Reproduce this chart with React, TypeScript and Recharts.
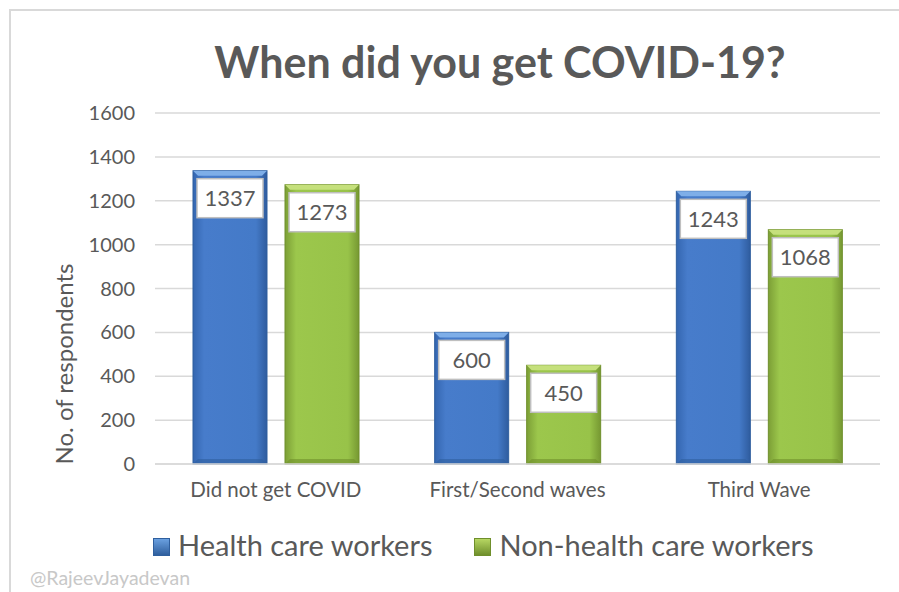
import React from "react";
import {
  BarChart,
  Bar,
  XAxis,
  YAxis,
  CartesianGrid,
  Legend,
  LabelList,
} from "recharts";

const categories = ["Did not get COVID", "First/Second waves", "Third Wave"];
const healthCare = [1337, 600, 1243];
const nonHealthCare = [1273, 450, 1068];
const yTicks = [0, 200, 400, 600, 800, 1000, 1200, 1400, 1600];

const chartData = categories.map((name, i) => ({
  name,
  hcw: healthCare[i],
  nonHcw: nonHealthCare[i],
}));

const FONT = "Lato, 'Open Sans', sans-serif";
const TEXT = "#595959";

function BevelBar(props: any) {
  const { x, y, width, height, fill } = props;
  if (!height || height <= 0) return null;
  const id = fill === "blue" ? "gBlue" : "gGreen";
  const top = fill === "blue" ? "#7eaee8" : "#c5e07c";
  const edge = fill === "blue" ? "#2f5f9e" : "#6f8f2c";
  const b = 5;
  return (
    <g>
      <rect x={x} y={y} width={width} height={height} fill={`url(#${id})`} stroke={edge} strokeWidth={1} />
      <polygon
        points={`${x},${y} ${x + width},${y} ${x + width - b},${y + b} ${x + b},${y + b}`}
        fill={top}
      />
      <polygon
        points={`${x},${y + height} ${x + width},${y + height} ${x + width - b},${y + height - b} ${x + b},${y + height - b}`}
        fill={edge}
        opacity={0.6}
      />
    </g>
  );
}

function ValueBox(props: any) {
  const { x, y, width, value } = props;
  const bw = width - 8;
  const bh = 39;
  const bx = x + 4;
  const by = y + 8;
  return (
    <g>
      <rect x={bx} y={by} width={bw} height={bh} fill="#ffffff" stroke="#bfbfbf" strokeWidth={1.5} />
      <text
        x={x + width / 2}
        y={by + bh / 2 + 8}
        textAnchor="middle"
        fontFamily={FONT}
        fontSize={22}
        fill={TEXT}
      >
        {value}
      </text>
    </g>
  );
}

function YLabel() {
  return (
    <text
      x={63}
      y={364}
      transform="rotate(-90, 63, 364)"
      textAnchor="middle"
      dominantBaseline="central"
      fontFamily={FONT}
      fontSize={24}
      fill={TEXT}
    >
      No. of respondents
    </text>
  );
}

function LegendContent() {
  const items = [
    { label: "Health care workers", c1: "#2f5f9e", c2: "#6aa0e0" },
    { label: "Non-health care workers", c1: "#6f8f2c", c2: "#b6d662" },
  ];
  return (
    <div style={{ display: "flex", gap: 42, fontFamily: FONT, fontSize: 29, color: TEXT, lineHeight: "36px" }}>
      {items.map((it) => (
        <div key={it.label} style={{ display: "flex", alignItems: "center" }}>
          <span
            style={{
              display: "inline-block",
              width: 17,
              height: 18,
              marginRight: 8,
              marginTop: 3,
              background: `linear-gradient(to bottom, ${it.c2}, ${it.c1})`,
              border: `1px solid ${it.c1}`,
              boxSizing: "border-box",
            }}
          />
          {it.label}
        </div>
      ))}
    </div>
  );
}

export default function App() {
  return (
    <div style={{ position: "absolute", left: 0, top: 0, width: 899, height: 592, background: "#fff", overflow: "hidden" }}>
      <div
        style={{
          position: "absolute",
          left: 9,
          top: 9,
          width: 900,
          height: 600,
          border: "2px solid #d9d9d9",
        }}
      />
      <div
        style={{
          position: "absolute",
          left: 0,
          width: 1000,
          top: 36,
          textAlign: "center",
          fontFamily: FONT,
          fontWeight: 700,
          fontSize: 43,
          color: TEXT,
        }}
      >
        When did you get COVID-19?
      </div>
      <div
        style={{
          position: "absolute",
          left: 30,
          top: 566,
          fontFamily: FONT,
          fontSize: 19.5,
          color: "#c8c8c8",
        }}
      >
        @RajeevJayadevan
      </div>
      <BarChart
        width={899}
        height={592}
        data={chartData}
        margin={{ top: 113, right: 19, left: 3, bottom: 0 }}
        barSize={74}
        barGap={18}
        style={{ position: "absolute", left: 0, top: 0 }}
      >
        <defs>
          <linearGradient id="gBlue" x1="0" y1="0" x2="1" y2="0">
            <stop offset="0%" stopColor="#3466b0" />
            <stop offset="15%" stopColor="#477ccb" />
            <stop offset="85%" stopColor="#447ac8" />
            <stop offset="100%" stopColor="#2f5c9e" />
          </linearGradient>
          <linearGradient id="gGreen" x1="0" y1="0" x2="1" y2="0">
            <stop offset="0%" stopColor="#7c9f36" />
            <stop offset="15%" stopColor="#9cc74c" />
            <stop offset="85%" stopColor="#98c349" />
            <stop offset="100%" stopColor="#769832" />
          </linearGradient>
        </defs>
        <CartesianGrid vertical={false} stroke="#d9d9d9" strokeWidth={1.5} />
        <XAxis
          dataKey="name"
          axisLine={{ stroke: "#d9d9d9", strokeWidth: 1.5 }}
          tickLine={false}
          tick={{ fill: TEXT, fontSize: 20.5, fontFamily: FONT }}
          tickMargin={12}
          height={56}
        />
        <YAxis
          domain={[0, 1600]}
          ticks={yTicks}
          axisLine={false}
          tickLine={false}
          width={152}
          tickMargin={14}
          tick={{ fill: TEXT, fontSize: 20, fontFamily: FONT }}
          label={<YLabel />}
        />
        <Legend
          verticalAlign="bottom"
          height={72}
          content={<LegendContent />}
          wrapperStyle={{ left: 153, top: 527, width: 720 }}
        />
        <Bar dataKey="hcw" name="Health care workers" fill="blue" shape={<BevelBar />} isAnimationActive={false}>
          <LabelList dataKey="hcw" content={<ValueBox />} />
        </Bar>
        <Bar dataKey="nonHcw" name="Non-health care workers" fill="green" shape={<BevelBar />} isAnimationActive={false}>
          <LabelList dataKey="nonHcw" content={<ValueBox />} />
        </Bar>
      </BarChart>
    </div>
  );
}
